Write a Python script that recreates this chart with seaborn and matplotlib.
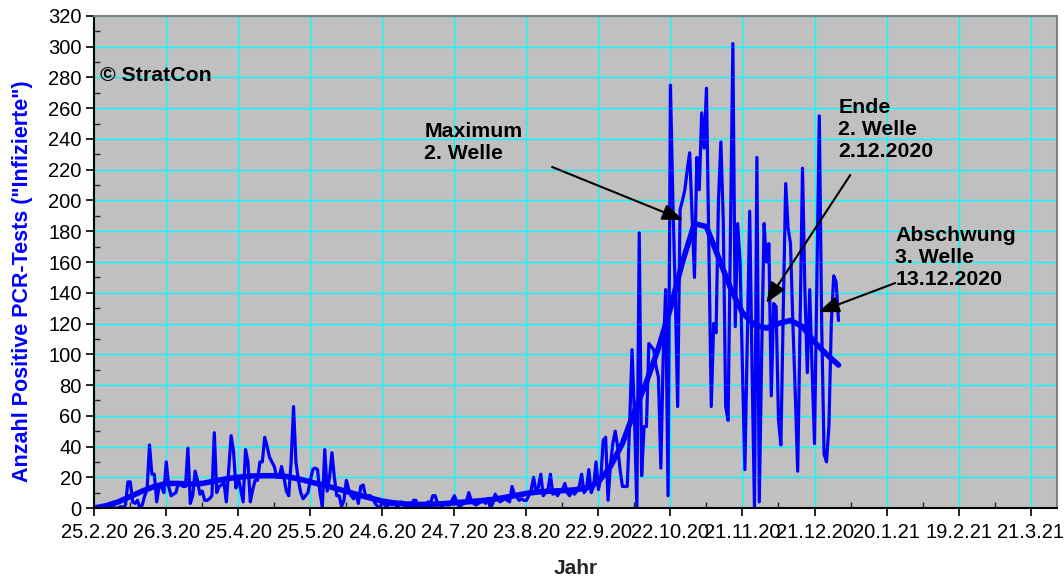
import pandas as pd
import matplotlib
matplotlib.use("Agg")
import matplotlib.pyplot as plt
import seaborn as sns
from matplotlib.ticker import MultipleLocator, FixedLocator

# daily positive tests, day 0 = 25.2.2020
start_date = pd.Timestamp("2020-02-25")
cases = [
    0, 0, 0, 0, 1, 0, 0, 1, 0, 0,
    0, 1, 0, 2, 17, 17, 4, 3, 5, 0,
    2, 8, 12, 41, 22, 22, 4, 14, 14, 10,
    30, 14, 8, 9, 10, 16, 15, 14, 14, 39,
    3, 8, 24, 18, 9, 11, 5, 5, 6, 8,
    49, 10, 14, 15, 17, 4, 25, 47, 37, 13,
    20, 12, 4, 38, 30, 4, 12, 18, 18, 30,
    30, 46, 40, 33, 30, 27, 20, 20, 27, 20,
    11, 8, 30, 66, 30, 18, 10, 6, 8, 10,
    18, 25, 26, 25, 10, 1, 38, 11, 20, 36,
    20, 8, 8, 1, 5, 18, 12, 8, 6, 9,
    3, 14, 15, 8, 8, 8, 6, 3, 1, 0,
    4, 2, 1, 3, 2, 3, 1, 2, 4, 2,
    1, 3, 2, 5, 5, 1, 2, 3, 2, 4,
    3, 8, 8, 3, 2, 1, 3, 2, 2, 5,
    8, 4, 1, 2, 3, 4, 10, 5, 3, 2,
    3, 4, 5, 3, 6, 0, 3, 9, 6, 4,
    5, 6, 5, 4, 14, 9, 7, 5, 6, 5,
    5, 8, 12, 20, 10, 14, 22, 8, 10, 12,
    22, 9, 10, 8, 11, 12, 16, 10, 8, 11,
    9, 11, 14, 22, 10, 12, 25, 10, 14, 30,
    12, 20, 44, 46, 5, 28, 42, 50, 40, 25,
    14, 14, 14, 55, 103, 60, 0, 179, 21, 53,
    53, 107, 105, 103, 92, 85, 26, 100, 142, 8,
    275, 200, 140, 66, 194, 200, 207, 220, 231, 190,
    150, 228, 207, 257, 234, 273, 170, 66, 120, 114,
    200, 238, 187, 66, 57, 180, 302, 118, 185, 160,
    90, 25, 110, 193, 90, 0, 228, 4, 100, 185,
    160, 172, 73, 133, 131, 57, 41, 130, 211, 182,
    172, 120, 74, 24, 120, 221, 142, 88, 142, 90,
    42, 150, 255, 118, 35, 30, 53, 120, 151, 147,
    122,
]
days = list(range(len(cases)))

# trend curve read every 5 days
trend_days = list(range(0, 311, 5))
trend = [
    0, 1.5, 4, 7.5, 11, 14, 16, 16, 15.5, 16,
    17.5, 19, 20, 20.8, 21, 21, 20.5, 19, 17, 15,
    13, 10.8, 8.5, 6.5, 4.5, 3.3, 2.6, 2.3, 2.4, 2.8,
    3.4, 4, 4.6, 5.4, 6.6, 8, 9.5, 10.5, 11, 11.3,
    11.8, 13, 17, 27, 42, 63, 82, 104, 130, 160,
    185, 183, 163, 143, 127, 119, 117, 120, 122, 118,
    108, 100, 93,
]

tick_days = list(range(0, 391, 30))
tick_labels = [
    f"{d.day}.{d.month}.{d.strftime('%y')}"
    for d in (start_date + pd.to_timedelta(tick_days, unit="D"))
]

df = pd.DataFrame({"day": days, "cases": cases})
df_trend = pd.DataFrame({"day": trend_days, "trend": trend})

sns.set_style("ticks")
plt.rcParams["font.family"] = ["Liberation Sans", "DejaVu Sans"]

fig = plt.figure(figsize=(10.64, 5.81), dpi=100)
ax = fig.add_axes([0.0886, 0.1256, 0.9048, 0.8469])
ax.set_facecolor("#C0C0C0")

sns.lineplot(data=df, x="day", y="cases", ax=ax, color="#0000FF",
             linewidth=2.3, estimator=None)
sns.lineplot(data=df_trend, x="day", y="trend", ax=ax, color="#0000FF",
             linewidth=4, estimator=None, solid_capstyle="round",
             solid_joinstyle="round")

ax.set_xlim(0, 401)
ax.set_ylim(0, 320)
ax.xaxis.set_major_locator(FixedLocator(tick_days))
ax.set_xticklabels(tick_labels)
ax.xaxis.set_minor_locator(MultipleLocator(15))
ax.yaxis.set_major_locator(MultipleLocator(20))
ax.yaxis.set_minor_locator(MultipleLocator(10))
ax.grid(True, which="major", color="#00FFFF", linewidth=1)
ax.set_axisbelow(True)

ax.tick_params(which="major", direction="out", length=6, width=1.2,
               labelsize=14.5, colors="black")
ax.tick_params(which="minor", direction="in", length=4, width=1)
ax.tick_params(axis="x", pad=5)
ax.tick_params(axis="y", pad=3)

for side in ["left", "bottom"]:
    ax.spines[side].set_color("black")
    ax.spines[side].set_linewidth(1.5)
for side in ["top", "right"]:
    ax.spines[side].set_color("#808080")
    ax.spines[side].set_linewidth(1.5)

ax.set_xlabel("Jahr", fontsize=15, fontweight="bold", labelpad=12)
ax.set_ylabel('Anzahl Positive PCR-Tests ("Infizierte")', fontsize=15.5,
              fontweight="bold", color="#0000FF")
ax.yaxis.set_label_coords(-0.064, 0.461)

txt = dict(fontsize=15.3, fontweight="bold", color="black",
           ha="left", va="center", linespacing=1.2)
ax.text(2.5, 281, "© StratCon", **txt)
ax.text(137.4, 237.5, "Maximum\n2. Welle", **txt)
ax.text(309.9, 246, "Ende\n2. Welle\n2.12.2020", **txt)
ax.text(333.6, 163, "Abschwung\n3. Welle\n13.12.2020", **txt)

arrow = dict(arrowstyle="-|>,head_length=0.9,head_width=0.35",
             color="black", lw=1.5, mutation_scale=14,
             shrinkA=0, shrinkB=0)
ax.annotate("", xy=(245.3, 187.3), xytext=(190.7, 221.8), arrowprops=arrow)
ax.annotate("", xy=(279.9, 133.3), xytext=(314.9, 216.6), arrowprops=arrow)
ax.annotate("", xy=(301.6, 127.5), xytext=(333.6, 146.3), arrowprops=arrow)

fig.savefig("out.png", dpi=100)
